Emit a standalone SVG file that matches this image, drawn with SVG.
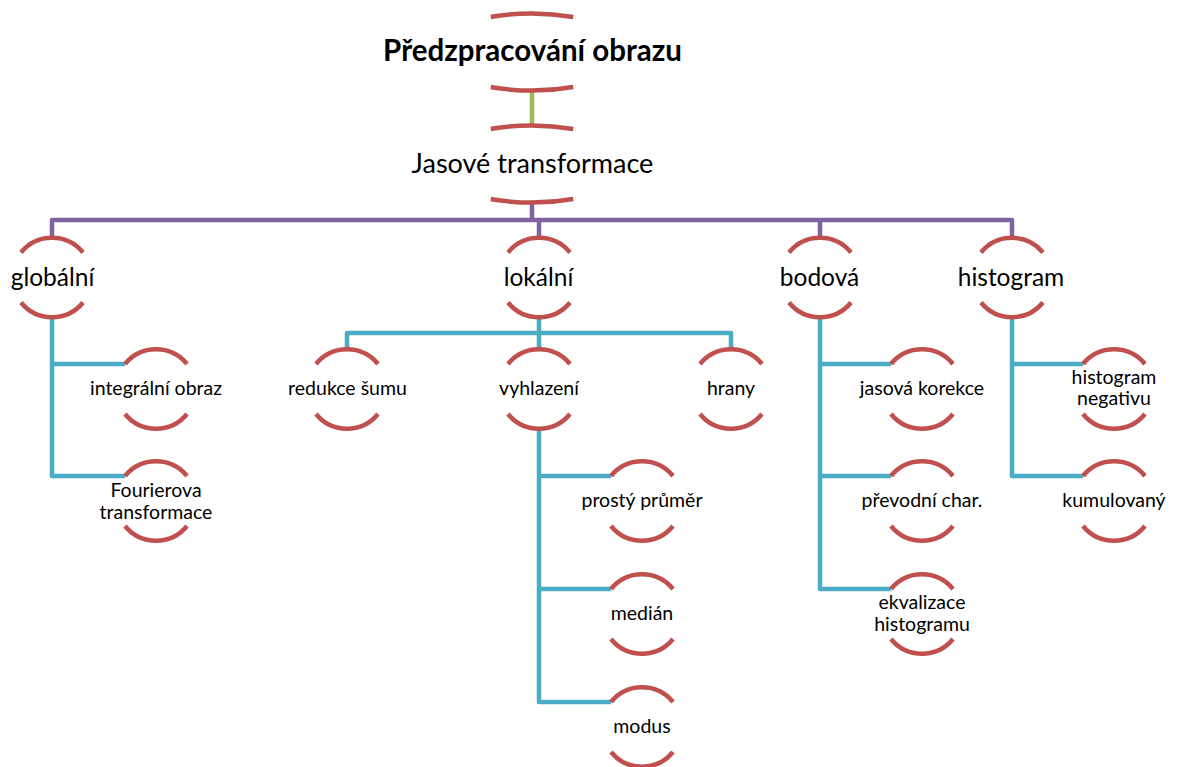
<svg xmlns="http://www.w3.org/2000/svg" width="1177" height="767" viewBox="0 0 1177 767">
<style>
.arc{fill:none;stroke:#C0504D;stroke-width:4.5;stroke-linecap:butt}
.c{fill:none;stroke-width:4.5;stroke-linejoin:round;stroke-linecap:butt}
.g{stroke:#9BBB59}.p{stroke:#8064A2}.b{stroke:#4BACC6}
text{font-family:Lato,"Liberation Sans",sans-serif;fill:#000;text-anchor:middle}
.t1{font-size:27px}.t1b{font-size:29.5px;font-weight:bold}
.t2{font-size:24.5px}.t3{font-size:19.5px}
</style>
<defs>
<path id="ar" class="arc" d="M-31,-25 A40 40 0 0 1 31,-25 M-31,25 A40 40 0 0 0 31,25"/>
<path id="ar1" class="arc" d="M-41.3,-35 A100 38.5 0 0 1 41.3,-35 M-41.3,35 A100 38.5 0 0 0 41.3,35"/>
</defs>
<rect width="1177" height="767" fill="#fff"/>
<g id="connectors">
<path class="c g" d="M532,89 V125"/>
<path class="c p" d="M532,201 V220 M52,238 V220 H1012 V238 M539,220 V238 M820,220 V238"/>
<path class="c b" d="M52,317 V476 H125 M52,364 H125"/>
<path class="c b" d="M539,317 V333 M347,349 V333 H731 V349 M539,333 V349"/>
<path class="c b" d="M539,429 V702 H611 M539,476 H611 M539,589 H611"/>
<path class="c b" d="M820,317 V589 H891 M820,364 H891 M820,476 H891"/>
<path class="c b" d="M1012,317 V476 H1083 M1012,364 H1083"/>
</g>
<g id="n-root"><use href="#ar1" x="532" y="52"/><text class="t1b" x="532.5" y="60.5">Předzpracování obrazu</text></g>
<g id="n-jasove"><use href="#ar1" x="532" y="164"/><text class="t1" x="532.5" y="173">Jasové transformace</text></g>
<g id="n-globalni"><use href="#ar" x="52" y="277.5"/><text class="t2" x="52.5" y="286">globální</text></g>
<g id="n-lokalni"><use href="#ar" x="539" y="277.5"/><text class="t2" x="538.5" y="286">lokální</text></g>
<g id="n-bodova"><use href="#ar" x="820" y="277.5"/><text class="t2" x="819.5" y="286">bodová</text></g>
<g id="n-histogram"><use href="#ar" x="1012" y="277.5"/><text class="t2" x="1011" y="286">histogram</text></g>
<g id="n-integralni"><use href="#ar" x="156" y="389"/><text class="t3" x="156" y="395">integrální obraz</text></g>
<g id="n-fourier"><use href="#ar" x="156" y="501"/><text class="t3" x="156"><tspan x="156" y="496.5">Fourierova</tspan><tspan x="156" y="518.5">transformace</tspan></text></g>
<g id="n-redukce"><use href="#ar" x="347" y="389"/><text class="t3" x="347.5" y="395">redukce šumu</text></g>
<g id="n-vyhlazeni"><use href="#ar" x="539" y="389"/><text class="t3" x="539" y="395">vyhlazení</text></g>
<g id="n-hrany"><use href="#ar" x="731" y="389"/><text class="t3" x="731" y="395">hrany</text></g>
<g id="n-prumer"><use href="#ar" x="642" y="501"/><text class="t3" x="642" y="507">prostý průměr</text></g>
<g id="n-median"><use href="#ar" x="642" y="614"/><text class="t3" x="642" y="620">medián</text></g>
<g id="n-modus"><use href="#ar" x="642" y="727"/><text class="t3" x="642" y="733">modus</text></g>
<g id="n-korekce"><use href="#ar" x="922" y="389"/><text class="t3" x="922" y="395">jasová korekce</text></g>
<g id="n-prevodni"><use href="#ar" x="922" y="501"/><text class="t3" x="922" y="507">převodní char.</text></g>
<g id="n-ekvalizace"><use href="#ar" x="922" y="614"/><text class="t3" x="922"><tspan x="922" y="608.5">ekvalizace</tspan><tspan x="922" y="630.5">histogramu</tspan></text></g>
<g id="n-negativ"><use href="#ar" x="1114" y="389"/><text class="t3" x="1114"><tspan x="1114" y="383.5">histogram</tspan><tspan x="1114" y="405">negativu</tspan></text></g>
<g id="n-kumulovany"><use href="#ar" x="1114" y="501"/><text class="t3" x="1114" y="507">kumulovaný</text></g>
</svg>
